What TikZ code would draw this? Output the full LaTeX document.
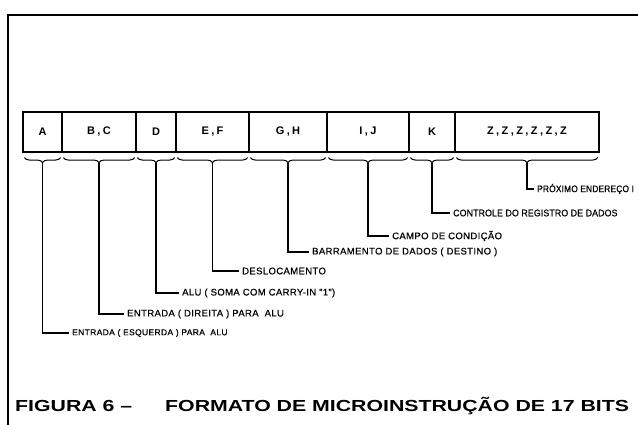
\documentclass[tikz,border=0pt]{standalone}
\usepackage{fontspec}
\setmainfont{Liberation Sans}
\usetikzlibrary{decorations.pathreplacing,calc}
\begin{document}
\begin{tikzpicture}[x=1pt,y=-1pt,
  cell/.style={draw, line width=1.1pt, minimum height=40pt, inner sep=0pt,
    font=\fontsize{11}{11}\bfseries\addfontfeature{LetterSpace=22}},
  lbl/.style={anchor=west, inner xsep=3pt, inner ysep=0pt,
    font=\fontsize{9.5}{10}\selectfont\addfontfeature{LetterSpace=4,FakeBold=0.6}},
  lead/.style={line width=1.1pt},
  brc/.style={decorate, decoration={brace, mirror, amplitude=5pt}, line width=1pt},
  frame/.style={line width=2pt},
  ttl/.style={anchor=west, inner sep=0pt,
    font=\fontsize{16}{16}\bfseries\addfontfeature{FakeStretch=1.33}}]
\useasboundingbox (0,0) rectangle (638,424);
\draw[frame] (639,15) -- (8,15) -- (8,425);
% cells
\node[cell, minimum width=39pt] (a) at (42.5,132) {A};
\node[cell, minimum width=74pt] (bc) at (99,132) {B,C};
\node[cell, minimum width=40pt] (d) at (156,132) {D};
\node[cell, minimum width=73pt] (ef) at (212.5,132) {E,F};
\node[cell, minimum width=78pt] (gh) at (288,132) {G,H};
\node[cell, minimum width=82pt] (ij) at (368,132) {I,J};
\node[cell, minimum width=46pt] (k) at (432,132) {K};
\node[cell, minimum width=144pt] (z) at (527,132) {Z,Z,Z,Z,Z,Z};
% braces and tips
\foreach \c in {a,bc,d,ef,gh,ij,k,z}{
  \draw[brc] ($(\c.south west)+(2,5)$) -- ($(\c.south east)+(-2,5)$);
  \coordinate (t\c) at ($(\c.south)+(0,10)$);
}
% labels
\node[lbl, font=\fontsize{9.5}{10}\selectfont\addfontfeature{LetterSpace=2,FakeStretch=0.88,FakeBold=0.6}] (lz) at (534,189) {PRÓXIMO ENDEREÇO I};
\node[lbl, font=\fontsize{9.5}{10}\selectfont\addfontfeature{LetterSpace=1,FakeStretch=0.93,FakeBold=0.6}] (lk) at (450,213) {CONTROLE DO REGISTRO DE DADOS};
\node[lbl] (lij) at (389,236) {CAMPO DE CONDIÇÃO};
\node[lbl] (lgh) at (309,252) {BARRAMENTO DE DADOS ( DESTINO )};
\node[lbl] (lef) at (239,271) {DESLOCAMENTO};
\node[lbl] (ld) at (179,293) {ALU ( SOMA COM CARRY-IN "1")};
\node[lbl] (lbc) at (124,314) {ENTRADA ( DIREITA ) PARA \ ALU};
\node[lbl, font=\fontsize{8.5}{9}\selectfont\addfontfeature{LetterSpace=4,FakeBold=0.6}] (la) at (69,333) {ENTRADA ( ESQUERDA ) PARA \ ALU};
\foreach \c in {a,bc,d,ef,gh,ij,k,z}{
  \draw[lead] (t\c) |- (l\c.west);
}
% title
\node[ttl] (title1) at (15,406) {FIGURA 6 –};
\node[ttl] (title2) at (165,406) {FORMATO DE MICROINSTRUÇÃO DE 17 BITS};
\end{tikzpicture}
\end{document}
